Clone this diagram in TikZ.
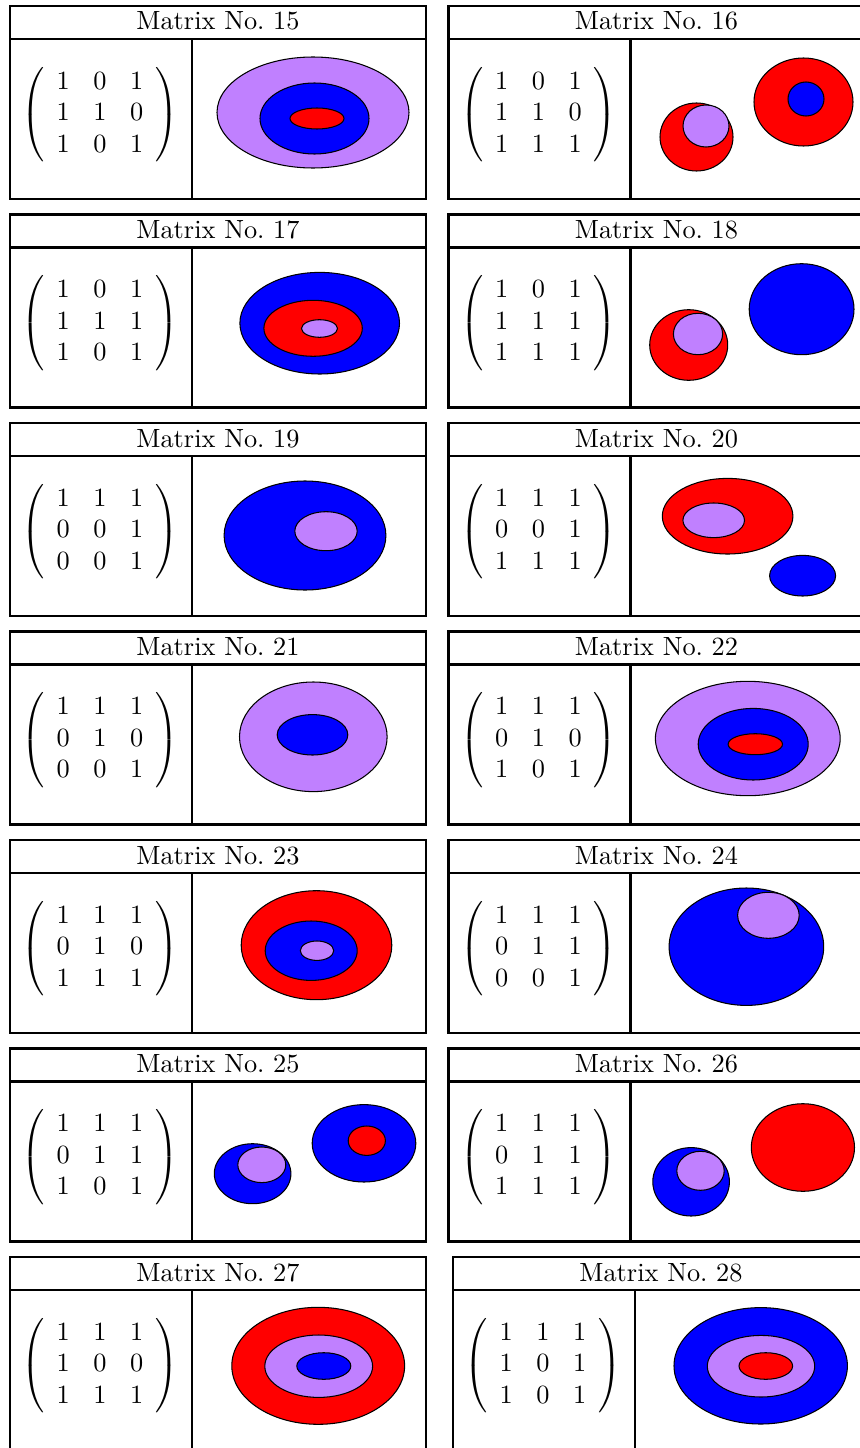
\documentclass[tikz,border=0pt]{standalone}
\usepackage{amsmath}
\usepackage{tikz}
\usetikzlibrary{positioning}
\usepackage{xcolor}
\definecolor{mred}{HTML}{FF0000}
\definecolor{mblue}{HTML}{0000FF}
\definecolor{mlilac}{HTML}{C080FF}
\setlength{\arraycolsep}{4.5pt}

\begin{document}
\begin{tikzpicture}[x=0.38pt, y=-0.38pt,
  panelline/.style={thick},
  blob/.style={draw=black, line width=0.4pt}]
\useasboundingbox (0,0) rectangle (860,1448);
\clip (0,0) rectangle (860,1448);
% ---------- frames, titles, matrices ----------
\foreach \n/\px/\py/\m in {
  15/10/6/{1&0&1\\1&1&0\\1&0&1},
  16/448.5/6/{1&0&1\\1&1&0\\1&1&1},
  17/10/214.5/{1&0&1\\1&1&1\\1&0&1},
  18/448.5/214.5/{1&0&1\\1&1&1\\1&1&1},
  19/10/423/{1&1&1\\0&0&1\\0&0&1},
  20/448.5/423/{1&1&1\\0&0&1\\1&1&1},
  21/10/631.5/{1&1&1\\0&1&0\\0&0&1},
  22/448.5/631.5/{1&1&1\\0&1&0\\1&0&1},
  23/10/840/{1&1&1\\0&1&0\\1&1&1},
  24/448.5/840/{1&1&1\\0&1&1\\0&0&1},
  25/10/1048.5/{1&1&1\\0&1&1\\1&0&1},
  26/448.5/1048.5/{1&1&1\\0&1&1\\1&1&1},
  27/10/1257/{1&1&1\\1&0&0\\1&1&1},
  28/453/1257/{1&1&1\\1&0&1\\1&0&1}}{
  \begin{scope}[shift={(\px,\py)}]
    \draw[panelline] (0,0) rectangle (416,193);
    \draw[panelline] (0,33) -- (416,33);
    \draw[panelline] (182,33) -- (182,193);
    \node[anchor=base] (t\n) at (208,24) {Matrix No.~\n};
    \node (m\n) at (90,108.5) {$\left(\begin{array}{ccc}\m\end{array}\right)$};
  \end{scope}
}
% ---------- No. 15 ----------
\draw[blob, fill=mlilac] (313,112.5) ellipse (96 and 55.5);
\draw[blob, fill=mblue] (314.5,118.5) ellipse (54.5 and 35.5);
\draw[blob, fill=mred] (317,118.5) ellipse (27 and 10.5);
% ---------- No. 16 ----------
\draw[blob, fill=mred] (696.5,137) ellipse (36.5 and 34);
\draw[blob, fill=mlilac] (706,126) ellipse (23 and 21);
\draw[blob, fill=mred] (803.5,102) ellipse (49.5 and 44);
\draw[blob, fill=mblue] (806,99) ellipse (18 and 17);
% ---------- No. 17 ----------
\draw[blob, fill=mblue] (319.7,323.2) ellipse (79.8 and 50.8);
\draw[blob, fill=mred] (313.1,328.3) ellipse (49.2 and 28);
\draw[blob, fill=mlilac] (319.5,328.5) ellipse (18 and 8.8);
% ---------- No. 18 ----------
\draw[blob, fill=mred] (688.7,345) ellipse (39 and 35.3);
\draw[blob, fill=mlilac] (698,334) ellipse (24.6 and 20.7);
\draw[blob, fill=mblue] (801.6,309.2) ellipse (52.4 and 45.5);
% ---------- No. 19 ----------
\draw[blob, fill=mblue] (305,535.5) ellipse (80.9 and 54.5);
\draw[blob, fill=mlilac] (326,531.2) ellipse (31.2 and 19.5);
% ---------- No. 20 ----------
\draw[blob, fill=mred] (727.6,516.2) ellipse (65.3 and 37.8);
\draw[blob, fill=mlilac] (713.7,520.3) ellipse (30.8 and 17.3);
\draw[blob, fill=mblue] (802.6,575.7) ellipse (33 and 20.3);
% ---------- No. 21 ----------
\draw[blob, fill=mlilac] (313.3,736.8) ellipse (73.8 and 54.8);
\draw[blob, fill=mblue] (312.5,734.8) ellipse (35.3 and 20.2);
% ---------- No. 22 ----------
\draw[blob, fill=mlilac] (747.8,738.5) ellipse (92.4 and 57.2);
\draw[blob, fill=mblue] (753.2,744.2) ellipse (55 and 35.8);
\draw[blob, fill=mred] (755.3,744.2) ellipse (27.2 and 10.5);
% ---------- No. 23 ----------
\draw[blob, fill=mred] (316.5,945.2) ellipse (75.3 and 54.5);
\draw[blob, fill=mblue] (311.2,950.7) ellipse (46 and 29.7);
\draw[blob, fill=mlilac] (317,950.7) ellipse (16.7 and 9.7);
% ---------- No. 24 ----------
\draw[blob, fill=mblue] (746.4,946.7) ellipse (77.3 and 58.7);
\draw[blob, fill=mlilac] (768.4,915.3) ellipse (30.8 and 23);
% ---------- No. 25 ----------
\draw[blob, fill=mblue] (252.6,1173.7) ellipse (38.3 and 30);
\draw[blob, fill=mlilac] (261.8,1164.8) ellipse (24 and 17.8);
\draw[blob, fill=mblue] (364,1143.3) ellipse (51.8 and 38.7);
\draw[blob, fill=mred] (366.8,1140.7) ellipse (18.6 and 14.7);
% ---------- No. 26 ----------
\draw[blob, fill=mblue] (691.1,1181.8) ellipse (38.3 and 34.2);
\draw[blob, fill=mlilac] (700.5,1170.8) ellipse (23.7 and 19.5);
\draw[blob, fill=mred] (802.9,1147.5) ellipse (51.6 and 43.8);
% ---------- No. 27 ----------
\draw[blob, fill=mred] (318.2,1365.8) ellipse (86.4 and 58.5);
\draw[blob, fill=mlilac] (318.7,1366.2) ellipse (53.9 and 31.2);
\draw[blob, fill=mblue] (323.8,1366) ellipse (27 and 13.3);
% ---------- No. 28 ----------
\draw[blob, fill=mblue] (760.7,1365.8) ellipse (86.7 and 58.2);
\draw[blob, fill=mlilac] (761,1366.2) ellipse (53.7 and 30.8);
\draw[blob, fill=mred] (765.8,1366) ellipse (26.8 and 13.3);
\end{tikzpicture}
\end{document}
